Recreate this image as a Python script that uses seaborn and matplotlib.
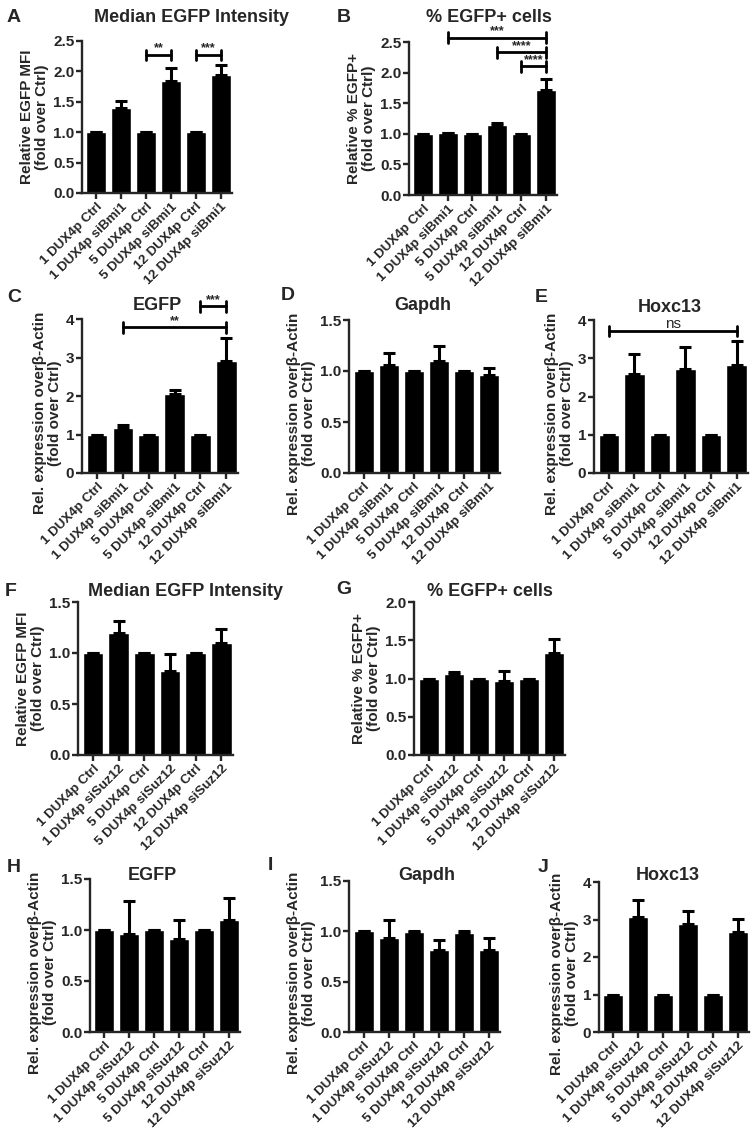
import numpy as np
import matplotlib
matplotlib.use('Agg')
import matplotlib.pyplot as plt
import seaborn as sns
import pandas as pd

# ---- data ----
labels_bmi1 = ['1 DUX4p Ctrl', '1 DUX4p siBmi1', '5 DUX4p Ctrl',
               '5 DUX4p siBmi1', '12 DUX4p Ctrl', '12 DUX4p siBmi1']
labels_suz12 = ['1 DUX4p Ctrl', '1 DUX4p siSuz12', '5 DUX4p Ctrl',
                '5 DUX4p siSuz12', '12 DUX4p Ctrl', '12 DUX4p siSuz12']

a_mean = [1.0, 1.39, 1.0, 1.85, 1.0, 1.94]
a_err = [0.0, 0.12, 0.0, 0.20, 0.0, 0.16]
b_mean = [1.0, 1.01, 1.0, 1.15, 1.0, 1.72]
b_err = [0.0, 0.01, 0.0, 0.02, 0.0, 0.17]
c_mean = [1.0, 1.18, 1.0, 2.05, 1.0, 2.90]
c_err = [0.0, 0.07, 0.0, 0.10, 0.0, 0.60]
d_mean = [1.0, 1.06, 1.0, 1.10, 1.0, 0.96]
d_err = [0.0, 0.12, 0.0, 0.15, 0.0, 0.07]
e_mean = [1.0, 2.58, 1.0, 2.73, 1.0, 2.82]
e_err = [0.0, 0.54, 0.0, 0.57, 0.0, 0.63]
f_mean = [1.0, 1.20, 1.0, 0.82, 1.0, 1.10]
f_err = [0.0, 0.11, 0.0, 0.17, 0.0, 0.14]
g_mean = [1.0, 1.06, 1.0, 0.97, 1.0, 1.33]
g_err = [0.0, 0.02, 0.0, 0.13, 0.0, 0.19]
h_mean = [1.0, 0.96, 1.0, 0.91, 1.0, 1.10]
h_err = [0.0, 0.32, 0.0, 0.19, 0.0, 0.21]
i_mean = [1.0, 0.93, 0.99, 0.81, 0.98, 0.81]
i_err = [0.0, 0.18, 0.01, 0.10, 0.02, 0.12]
j_mean = [1.0, 3.08, 1.0, 2.88, 1.0, 2.67]
j_err = [0.0, 0.44, 0.0, 0.34, 0.0, 0.35]

# brackets: (bar from, bar to, height, text)
a_sig = [(2, 3, 2.27, '**'), (4, 5, 2.27, '***')]
b_sig = [(1, 5, 2.57, '***'), (3, 5, 2.33, '****'), (4, 5, 2.10, '****')]
c_sig = [(1, 5, 3.78, '**'), (4, 5, 4.33, '***')]
e_sig = [(0, 5, 3.71, 'ns')]

ylab_mfi = 'Relative EGFP MFI\n(fold over Ctrl)'
ylab_pct = 'Relative % EGFP+\n(fold over Ctrl)'
ylab_rel = 'Rel. expression over\u03b2-Actin\n(fold over Ctrl)'

sns.set_style('ticks')
plt.rcParams['font.family'] = ['Liberation Sans', 'DejaVu Sans']
plt.rcParams['font.weight'] = 'bold'

W, H = 755, 1133
fig = plt.figure(figsize=(W / 100, H / 100), dpi=100)


def make_panel(rect, labels, mean, err, ymax, ystep, fmt, ylabel, sig=(), label_y=0.5):
    left, right, top, bottom = rect
    ax = fig.add_axes([left / W, 1 - bottom / H, (right - left) / W, (bottom - top) / H])
    df = pd.DataFrame({'group': labels, 'value': mean})
    sns.barplot(data=df, x='group', y='value', color='black', width=0.8,
                errorbar=None, saturation=1, ax=ax)
    x = np.arange(len(mean))
    ax.errorbar(x, mean, yerr=[np.zeros(len(err)), err], fmt='none',
                ecolor='black', elinewidth=2.2, capsize=4, capthick=2.2)
    ax.set_xlim(-0.58, len(mean) - 0.55)
    ax.set_ylim(0, ymax)
    ticks = np.arange(0, ymax + 1e-9, ystep)
    ax.set_yticks(ticks)
    ax.set_yticklabels([fmt.format(t) for t in ticks], fontsize=11, fontweight='bold')
    ax.set_xticks(x)
    ax.set_xticklabels(labels, rotation=45, ha='right', rotation_mode='anchor',
                       fontsize=9.6, fontweight='bold')
    ax.set_xlabel('')
    ax.set_ylabel(ylabel, fontsize=11, fontweight='bold', labelpad=3, linespacing=1.05)
    ax.yaxis.label.set_y(label_y)
    for s in ['top', 'right']:
        ax.spines[s].set_visible(False)
    for s in ['left', 'bottom']:
        ax.spines[s].set_linewidth(1.7)
    ax.tick_params(axis='both', width=1.7, length=4, pad=1.5)
    d = ymax * 0.035
    for x1, x2, yb, txt in sig:
        ax.plot([x1, x2], [yb, yb], color='black', lw=2, clip_on=False)
        ax.plot([x1, x1], [yb - d, yb + d], color='black', lw=2, clip_on=False)
        ax.plot([x2, x2], [yb - d, yb + d], color='black', lw=2, clip_on=False)
        ax.text((x1 + x2) / 2, yb + d * 0.1, txt, ha='center', va='bottom',
                fontsize=11 if txt == 'ns' else 9,
                fontweight='normal' if txt == 'ns' else 'bold', clip_on=False)
    return ax


rel_y = 0.39
make_panel((82, 232, 41, 193), labels_bmi1, a_mean, a_err, 2.5, 0.5, '{:.1f}', ylab_mfi, a_sig)
make_panel((409, 557, 42, 195), labels_bmi1, b_mean, b_err, 2.5, 0.5, '{:.1f}', ylab_pct, b_sig)
make_panel((82, 238, 319, 473), labels_bmi1, c_mean, c_err, 4, 1, '{:.0f}', ylab_rel, c_sig, rel_y)
make_panel((349, 500, 320, 473), labels_bmi1, d_mean, d_err, 1.5, 0.5, '{:.1f}', ylab_rel, (), rel_y)
make_panel((594, 748, 320, 473), labels_bmi1, e_mean, e_err, 4, 1, '{:.0f}', ylab_rel, e_sig, rel_y)
make_panel((78, 233, 602, 755), labels_suz12, f_mean, f_err, 1.5, 0.5, '{:.1f}', ylab_mfi)
make_panel((414, 565, 602, 755), labels_suz12, g_mean, g_err, 2.0, 0.5, '{:.1f}', ylab_pct)
make_panel((90, 240, 879, 1032), labels_suz12, h_mean, h_err, 1.5, 0.5, '{:.1f}', ylab_rel, (), rel_y)
make_panel((349, 500, 881, 1032), labels_suz12, i_mean, i_err, 1.5, 0.5, '{:.1f}', ylab_rel, (), rel_y)
make_panel((599, 749, 882, 1032), labels_suz12, j_mean, j_err, 4, 1, '{:.0f}', ylab_rel, (), rel_y)

# panel letters and titles (pixel positions)
letters = [('A', 7, 17), ('B', 337, 17), ('C', 7, 297), ('D', 281, 295), ('E', 535, 297),
           ('F', 5, 592), ('G', 336, 590), ('H', 7, 867), ('I', 268, 865), ('J', 538, 867)]
for t, px, py in letters:
    fig.text(px / W, 1 - py / H, t, fontsize=14, fontweight='bold', ha='left', va='center')

titles = [('Median EGFP Intensity', 191, 17), ('% EGFP+ cells', 489, 17),
          ('EGFP', 157, 305), ('Gapdh', 423, 306), ('Hoxc13', 670, 307),
          ('Median EGFP Intensity', 185, 592), ('% EGFP+ cells', 490, 591),
          ('EGFP', 152, 875), ('Gapdh', 427, 876), ('Hoxc13', 668, 876)]
for t, px, py in titles:
    fig.text(px / W, 1 - py / H, t, fontsize=13, fontweight='bold', ha='center', va='center')

fig.savefig('out.png', dpi=100)
